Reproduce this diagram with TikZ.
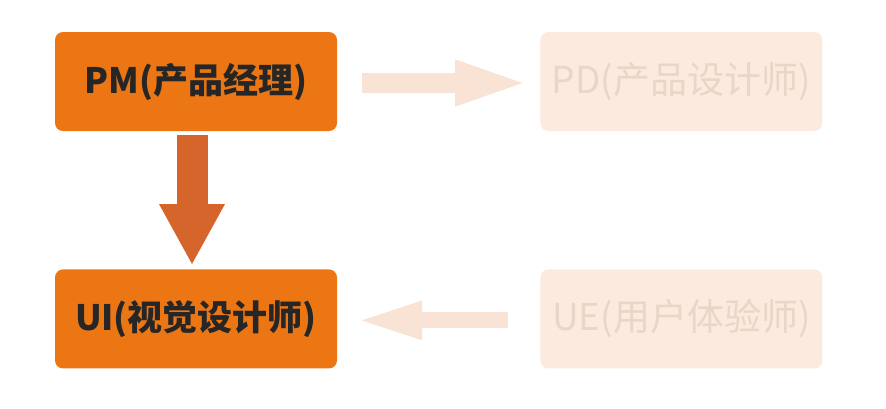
\documentclass[tikz,border=0pt]{standalone}
\usepackage{fontspec}
\setmainfont{Noto Sans CJK SC}
\usetikzlibrary{arrows.meta,positioning}

\definecolor{roleorange}{HTML}{EC7614}
\definecolor{rolefaint}{HTML}{FCEADE}
\definecolor{textfaint}{HTML}{E9D6C9}
\definecolor{flowdark}{HTML}{D6652B}
\definecolor{flowfaint}{HTML}{F9E3D5}

\tikzset{
  role/.style={minimum width=282pt, minimum height=99pt, rounded corners=8pt,
    inner sep=0pt, font=\fontsize{37}{42}\selectfont},
  roleon/.style={role, fill=roleorange, text=black!85, font=\fontsize{35}{40}\selectfont\bfseries},
  roleoff/.style={role, fill=rolefaint, text=textfaint},
}

\begin{document}
\begin{tikzpicture}[x=1pt,y=-1pt, node distance=138pt and 203pt]
  \useasboundingbox (0,0) rectangle (886,408);
  \node[roleon] (pm) at (196,81.5) {PM(产品经理)};
  \node[roleoff, right=of pm] (pd) {PD(产品设计师)};
  \node[roleon, below=of pm] (ui) {UI(视觉设计师)};
  \node[roleoff, right=of ui] (ue) {UE(用户体验师)};
  % block arrows
  \draw[flowdark, line width=31pt, -{Triangle[length=61pt,width=61pt]}]
    ([xshift=-4pt,yshift=-4pt]pm.south) -- ([xshift=-4pt,yshift=4pt]ui.north);
  \draw[flowfaint, line width=20pt, -{Triangle[length=76pt,width=40pt]}]
    ([xshift=25pt,yshift=-1.5pt]pm.east) -- ([xshift=-9pt,yshift=-1.5pt]pd.west);
  \draw[flowfaint, line width=16pt, -{Triangle[length=68pt,width=34pt]}]
    ([xshift=-32pt,yshift=-1.5pt]ue.west) -- ([xshift=17pt,yshift=-1.5pt]ui.east);
\end{tikzpicture}
\end{document}
